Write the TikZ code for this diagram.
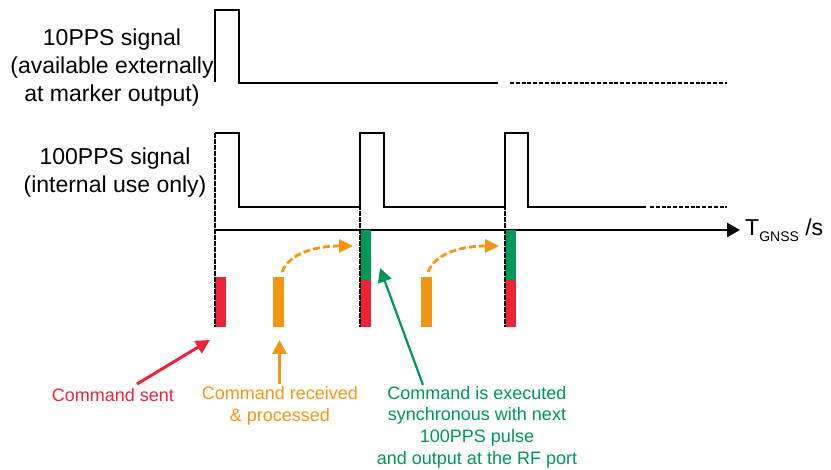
\documentclass[tikz,border=0pt]{standalone}
\usepackage{fontspec}
\setmainfont{Liberation Sans}
\usetikzlibrary{arrows.meta}
\definecolor{cred}{RGB}{237,36,56}
\definecolor{corange}{RGB}{243,150,20}
\definecolor{cgreen}{RGB}{0,150,88}
\begin{document}
\begin{tikzpicture}[x=1pt,y=-1pt,
  sig/.style={line width=1.3pt,line join=miter},
  sigdash/.style={line width=2pt,dash pattern=on 4pt off 1.8pt},
  tick/.style={line width=2pt,dash pattern=on 5pt off 1pt},
  bar/.style={draw=none,minimum width=11pt,inner sep=0pt,anchor=north west},
  bigtxt/.style={font=\fontsize{23}{28}\selectfont,align=center,inner sep=0pt},
  smalltxt/.style={font=\fontsize{18}{21.7}\selectfont,align=center,inner sep=0pt},
  curvarrow/.style={corange,line width=2.8pt,dash pattern=on 7pt off 3pt,-{Triangle[length=14pt,width=13pt]}},
  pointer/.style={line width=3pt,-{Triangle[length=14pt,width=14pt]}}
]
\useasboundingbox (0,0) rectangle (831,470);

% labels
\node[bigtxt] (lbl10) at (112,68) {10PPS signal\\(available externally\\at marker output)};
\node[bigtxt] (lbl100) at (115,173) {100PPS signal\\(internal use only)};

% 10PPS signal
\draw[sig] (215,82) -- (215,10) -- (239,10) -- (239,83) -- (498,83);
\draw[sigdash] (510,83) -- (727,83);

% 100PPS signal
\draw[sig] (215,133) -- (239,133) -- (239,207) -- (360,207) -- (360,133) -- (384,133) -- (384,207)
  -- (505,207) -- (505,133) -- (528,133) -- (528,207) -- (646,207);
\draw[sigdash] (650,207) -- (727,207);

% time axis
\coordinate (ax0) at (215,230);
\coordinate (ax1) at (740,230);
\draw[line width=2.5pt,-{Triangle[length=13pt,width=14pt]}] (ax0) -- (ax1);
\node[anchor=west,inner sep=0pt,font=\fontsize{23}{23}\selectfont] (tlbl) at (745,230)
  {T\raisebox{-6pt}{\fontsize{14}{14}\selectfont GNSS} /s};

% bars
\node[bar,fill=cred,minimum height=50pt] (r1) at (215,277) {};
\node[bar,fill=corange,minimum height=50pt] (o1) at (272.5,277) {};
\node[bar,fill=cgreen,minimum height=50pt] (g2) at (360,230) {};
\node[bar,fill=cred,minimum height=47pt] (r2) at (360,280) {};
\node[bar,fill=corange,minimum height=50pt] (o2) at (420.5,277) {};
\node[bar,fill=cgreen,minimum height=50pt] (g3) at (505,230) {};
\node[bar,fill=cred,minimum height=47pt] (r3) at (505,280) {};

% dashed sync lines
\draw[tick] (215,133) -- (215,327);
\draw[tick] (360,133) -- (360,327);
\draw[tick] (505,133) -- (505,327);

% curved orange arrows
\coordinate (c1s) at (282,272);
\coordinate (c1e) at (353,246);
\coordinate (c2s) at (428,272);
\coordinate (c2e) at (499,246);
\draw[curvarrow] (c1s) .. controls (290,252) and (318,246) .. (c1e);
\draw[curvarrow] (c2s) .. controls (436,252) and (464,246) .. (c2e);

% bottom labels
\node[smalltxt,text=cred] (lsent) at (113,395) {Command sent};
\node[smalltxt,text=corange] (lrecv) at (280,406) {Command received\\\& processed};
\node[smalltxt,text=cgreen] (lexec) at (477,427) {Command is executed\\synchronous with next\\100PPS pulse\\and output at the RF port};

% pointers
\coordinate (ps1) at (137,384);
\coordinate (pe1) at (210,340);
\coordinate (ps2) at (279.5,384);
\coordinate (pe2) at (279.5,340);
\coordinate (ps3) at (423,385);
\coordinate (pe3) at (380,268);
\draw[pointer,cred] (ps1) -- (pe1);
\draw[pointer,corange] (ps2) -- (pe2);
\draw[pointer,cgreen,line width=2.2pt] (ps3) -- (pe3);
\end{tikzpicture}
\end{document}
